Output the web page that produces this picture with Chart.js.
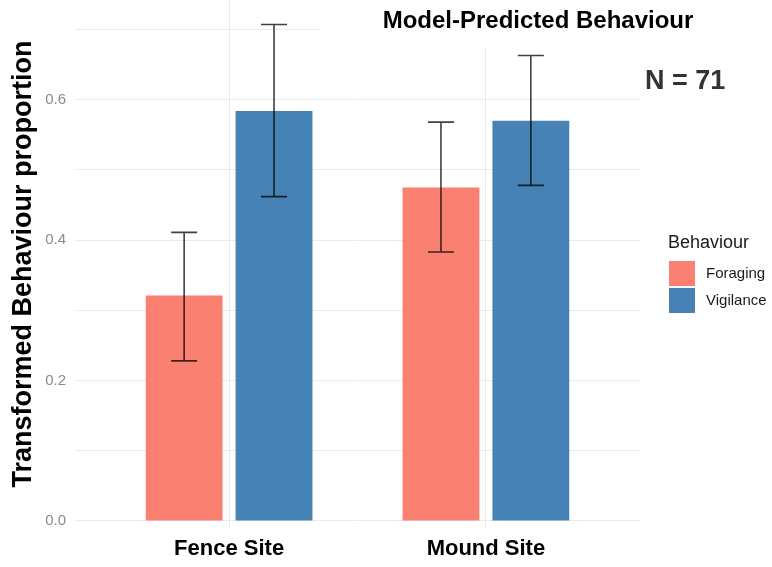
<!DOCTYPE html>
<html>
<head>
<meta charset="utf-8">
<script src="https://cdn.jsdelivr.net/npm/chart.js@4/dist/chart.umd.min.js"></script>
<style>
  html, body { margin: 0; padding: 0; background: #fff; }
  #wrap { width: 772px; height: 567px; position: relative; }
</style>
</head>
<body>
<div id="wrap"><canvas id="c" width="772" height="567"></canvas></div>
<script>
const categories = ['Fence Site', 'Mound Site'];
const seriesNames = ['Foraging', 'Vigilance'];
const foraging = [0.321, 0.475];
const vigilance = [0.584, 0.570];
const foragingLower = [0.228, 0.383];
const foragingUpper = [0.411, 0.568];
const vigilanceLower = [0.462, 0.478];
const vigilanceUpper = [0.707, 0.663];
const yTickValues = [0.0, 0.1, 0.2, 0.3, 0.4, 0.5, 0.6, 0.7];
const yTickLabels = ['0.0', '', '0.2', '', '0.4', '', '0.6', ''];
const chartTitle = 'Model-Predicted Behaviour';
const annotation = 'N = 71';
const legendTitle = 'Behaviour';
const yAxisTitle = 'Transformed Behaviour proportion';

const colors = ['#FA8072', '#4682B4'];
const toPoints = vals => vals.map((v, i) => ({ x: i + 1, y: v }));

const errorBars = {
  id: 'errorBars',
  afterDatasetsDraw(chart) {
    const ctx = chart.ctx;
    const ys = chart.scales.y;
    chart.data.datasets.forEach((ds, di) => {
      const meta = chart.getDatasetMeta(di);
      meta.data.forEach((el, i) => {
        const lo = ys.getPixelForValue(ds.lower[i]);
        const hi = ys.getPixelForValue(ds.upper[i]);
        const x = el.x;
        ctx.save();
        ctx.strokeStyle = 'rgba(0,0,0,0.75)';
        ctx.lineWidth = 1.6;
        ctx.beginPath();
        ctx.moveTo(x, lo); ctx.lineTo(x, hi);
        ctx.moveTo(x - 13, lo); ctx.lineTo(x + 13, lo);
        ctx.moveTo(x - 13, hi); ctx.lineTo(x + 13, hi);
        ctx.stroke();
        ctx.restore();
      });
    });
  }
};

const decorations = {
  id: 'decorations',
  beforeDatasetsDraw(chart) {
    const ctx = chart.ctx;
    ctx.save();
    ctx.fillStyle = '#ffffff';
    ctx.fillRect(320, 0, 452, 48);
    ctx.restore();
  },
  afterDraw(chart) {
    const ctx = chart.ctx;
    ctx.save();
    // title
    ctx.fillStyle = '#000000';
    ctx.font = 'bold 24px "Liberation Sans", Arial, sans-serif';
    ctx.textAlign = 'center';
    ctx.textBaseline = 'middle';
    ctx.fillText(chartTitle, 538, 21);
    // N annotation
    ctx.fillStyle = '#333333';
    ctx.font = 'bold 27px "Liberation Sans", Arial, sans-serif';
    ctx.textAlign = 'left';
    ctx.fillText(annotation, 645, 82);
    // legend
    ctx.fillStyle = '#1a1a1a';
    ctx.font = '18px "Liberation Sans", Arial, sans-serif';
    ctx.fillText(legendTitle, 668, 243);
    chart.data.datasets.forEach((ds, i) => {
      const top = 261 + i * 27;
      ctx.fillStyle = ds.backgroundColor;
      ctx.fillRect(669, top, 26, 25);
      ctx.fillStyle = '#1a1a1a';
      ctx.font = '15px "Liberation Sans", Arial, sans-serif';
      ctx.fillText(ds.label, 706, top + 13);
    });
    ctx.restore();
  }
};

new Chart(document.getElementById('c'), {
  type: 'bar',
  data: {
    datasets: [
      { label: seriesNames[0], data: toPoints(foraging), backgroundColor: colors[0],
        lower: foragingLower, upper: foragingUpper },
      { label: seriesNames[1], data: toPoints(vigilance), backgroundColor: colors[1],
        lower: vigilanceLower, upper: vigilanceUpper }
    ]
  },
  options: {
    responsive: false,
    animation: false,
    devicePixelRatio: 1,
    categoryPercentage: 0.70,
    barPercentage: 0.855,
    layout: { padding: { left: 0, right: 132, top: 0, bottom: 0 } },
    plugins: { legend: { display: false }, title: { display: false }, tooltip: { enabled: false } },
    scales: {
      x: {
        type: 'linear',
        min: 0.4,
        max: 2.6,
        offset: false,
        afterBuildTicks(scale) { scale.ticks = categories.map((c, i) => ({ value: i + 1 })); },
        afterFit(scale) { scale.height = 39; scale.paddingLeft = 0; scale.paddingRight = 0; },
        border: { display: false },
        grid: { color: '#ebebeb', lineWidth: 1, drawTicks: false, tickLength: 0, offset: false },
        ticks: {
          padding: 8,
          color: '#000000',
          font: { family: '"Liberation Sans", Arial, sans-serif', size: 22, weight: 'bold' },
          callback: (v) => categories[Math.round(v) - 1] || ''
        }
      },
      y: {
        min: -0.01,
        max: 0.742,
        afterBuildTicks(scale) { scale.ticks = yTickValues.map(v => ({ value: v })); },
        afterFit(scale) { scale.width = 75; scale.paddingTop = 0; scale.paddingBottom = 0; },
        border: { display: false },
        grid: { color: '#ebebeb', lineWidth: 1, drawTicks: false, tickLength: 0 },
        ticks: {
          padding: 9,
          color: '#8a8a8a',
          font: { family: '"Liberation Sans", Arial, sans-serif', size: 15 },
          callback: (v, i) => yTickLabels[i]
        },
        title: {
          display: true,
          text: yAxisTitle,
          color: '#000000',
          padding: { top: 7, bottom: 0 },
          font: { family: '"Liberation Sans", Arial, sans-serif', size: 27, weight: 'bold' }
        }
      }
    }
  },
  plugins: [errorBars, decorations]
});
</script>
</body>
</html>
